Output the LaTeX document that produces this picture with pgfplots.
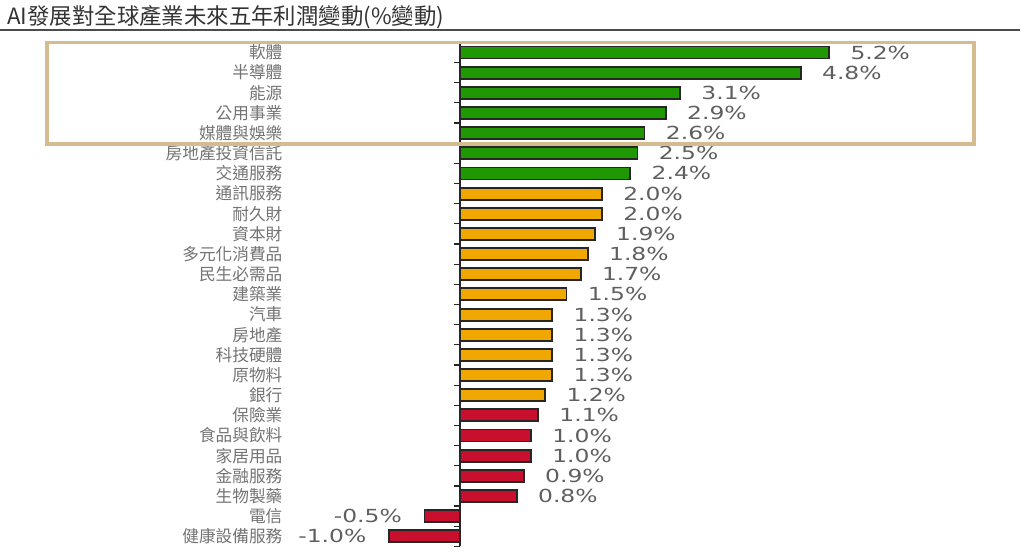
\documentclass[border=0pt]{standalone}
\usepackage{pgfplots}
\pgfplotsset{compat=1.18}
\usepackage{fontspec}
\setmainfont{DejaVu Sans}
\newfontfamily\cjk{Noto Sans CJK TC}
\newfontfamily\numfont[FakeStretch=1.3]{DejaVu Sans}
\definecolor{bgreen}{RGB}{32,152,4}
\definecolor{borange}{RGB}{240,168,0}
\definecolor{bred}{RGB}{200,16,46}
\definecolor{tanbox}{RGB}{212,188,142}
\definecolor{lblgray}{RGB}{115,115,115}
\definecolor{numgray}{RGB}{95,95,95}
\begin{document}
\begin{tikzpicture}
\useasboundingbox (0,0) rectangle (768pt,-417pt);
\begin{scope}[x=0.75pt,y=-0.75pt]
\node[anchor=west,inner sep=0pt,text=black!80,font=\cjk\fontsize{16.8pt}{18pt}\selectfont] at (7,17) {AI發展對全球產業未來五年利潤變動(\%變動)};
\draw[black!70,line width=1.1pt] (0,30) -- (1020,30);
\end{scope}
\begin{axis}[
  at={(265.1pt,-31.8pt)}, anchor=north west,
  scale only axis, width=426pt, height=378pt,
  xmin=-1.5, xmax=6.5, ymin=-0.5, ymax=24.5,
  y dir=reverse,
  xbar, bar width=9pt, bar shift=0pt,
  axis x line=none,
  axis y line=center,
  axis line style={black!85,line width=1.2pt,-},
  ytick={0,...,24},
  minor ytick={0.5,1.5,...,24.5},
  major tick length=0pt,
  minor tick length=4.5pt,
  tick align=outside,
  minor tick style={black!85,line width=0.9pt},
  yticklabels={軟體,半導體,能源,公用事業,媒體與娛樂,房地產投資信託,交通服務,通訊服務,耐久財,資本財,多元化消費品,民生必需品,建築業,汽車,房地產,科技硬體,原物料,銀行,保險業,食品與飲料,家居用品,金融服務,生物製藥,電信,健康設備服務},
  yticklabel style={anchor=east,inner sep=0pt,xshift=-133pt,text=lblgray,font=\cjk\fontsize{12.5pt}{13pt}\selectfont},
  clip=false,
  point meta=explicit symbolic,
  nodes near coords,
  every node near coord/.append style={font=\numfont\fontsize{13.5pt}{14pt}\selectfont,text=numgray},
]
\addplot[fill=bgreen,draw=black!85,line width=1.4pt,
  nodes near coords style={anchor=west,xshift=12pt}] coordinates {
  (5.2,0) [5.2\%]
  (4.8,1) [4.8\%]
  (3.1,2) [3.1\%]
  (2.9,3) [2.9\%]
  (2.6,4) [2.6\%]
  (2.5,5) [2.5\%]
  (2.4,6) [2.4\%]
};
\addplot[fill=borange,draw=black!85,line width=1.4pt,
  nodes near coords style={anchor=west,xshift=12pt}] coordinates {
  (2.0,7) [2.0\%]
  (2.0,8) [2.0\%]
  (1.9,9) [1.9\%]
  (1.8,10) [1.8\%]
  (1.7,11) [1.7\%]
  (1.5,12) [1.5\%]
  (1.3,13) [1.3\%]
  (1.3,14) [1.3\%]
  (1.3,15) [1.3\%]
  (1.3,16) [1.3\%]
  (1.2,17) [1.2\%]
};
\addplot[fill=bred,draw=black!85,line width=1.4pt,
  nodes near coords style={anchor=west,xshift=12pt}] coordinates {
  (1.1,18) [1.1\%]
  (1.0,19) [1.0\%]
  (1.0,20) [1.0\%]
  (0.9,21) [0.9\%]
  (0.8,22) [0.8\%]
};
\addplot[fill=bred,draw=black!85,line width=1.4pt,
  nodes near coords style={anchor=east,xshift=-13pt}] coordinates {
  (-0.5,23) [-0.5\%]
  (-1.0,24) [-1.0\%]
};
\end{axis}
\begin{scope}[x=0.75pt,y=-0.75pt]
\draw[tanbox,line width=2.4pt] (47,42.5) rectangle (974,144);
\end{scope}
\end{tikzpicture}
\end{document}
